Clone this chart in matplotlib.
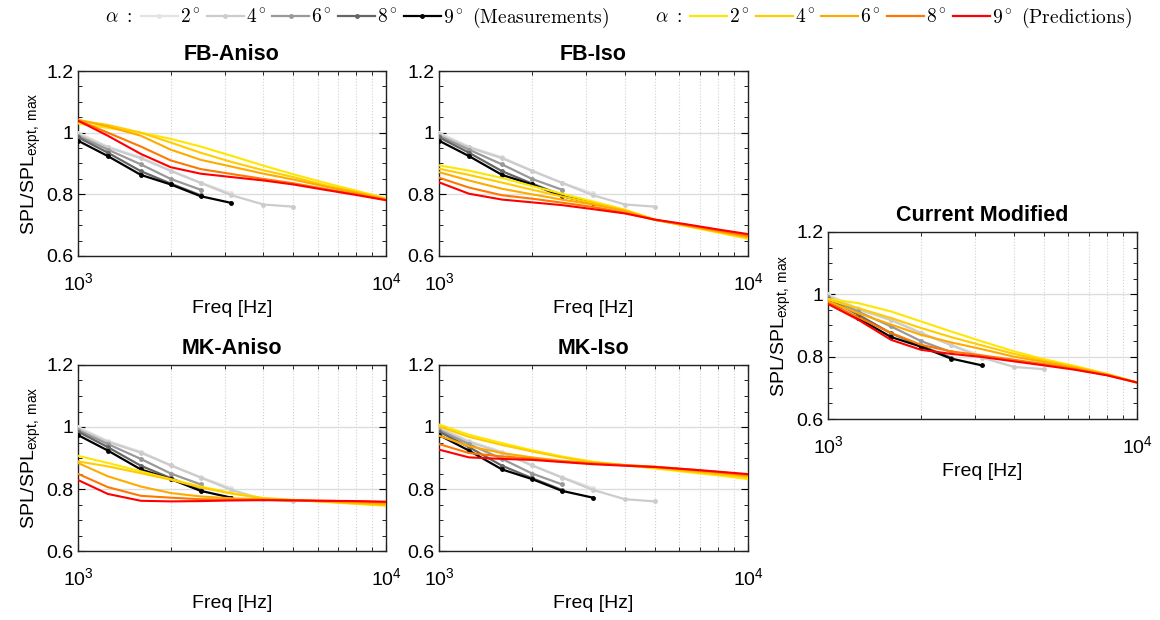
import numpy as np
import matplotlib
matplotlib.use("Agg")
import matplotlib.pyplot as plt
from matplotlib.ticker import FixedLocator, MultipleLocator, FuncFormatter, NullFormatter
from matplotlib.lines import Line2D

plt.rcParams['font.family'] = ['Liberation Sans', 'DejaVu Sans']
plt.rcParams['mathtext.fontset'] = 'custom'
plt.rcParams['mathtext.rm'] = 'Liberation Sans'
plt.rcParams['mathtext.it'] = 'Liberation Sans:italic'
plt.rcParams['mathtext.bf'] = 'Liberation Sans:bold'

# ---------------- data ----------------
angles = [2, 4, 6, 8, 9]
freq_meas = [1000, 1250, 1600, 2000, 2500, 3150, 4000, 5000]
meas_2 = [1.000, 0.955, 0.920, 0.877, 0.838, 0.803]
meas_4 = [0.995, 0.952, 0.917, 0.876, 0.837, 0.797, 0.767, 0.760]
meas_6 = [0.990, 0.945, 0.897, 0.850, 0.815]
meas_8 = [0.985, 0.935, 0.875, 0.835, 0.797]
meas_9 = [0.974, 0.924, 0.863, 0.832, 0.794, 0.772]
measurements = [meas_2, meas_4, meas_6, meas_8, meas_9]

freq_pred = [1000, 1250, 1600, 2000, 2500, 3150, 4000, 5000, 6300, 8000, 10000]

fb_aniso_2 = [1.030, 1.015, 1.000, 0.980, 0.955, 0.925, 0.893, 0.865, 0.838, 0.812, 0.787]
fb_aniso_4 = [1.040, 1.025, 1.000, 0.968, 0.935, 0.905, 0.878, 0.856, 0.830, 0.808, 0.785]
fb_aniso_6 = [1.042, 1.020, 0.990, 0.945, 0.912, 0.890, 0.867, 0.848, 0.826, 0.805, 0.784]
fb_aniso_8 = [1.040, 1.000, 0.955, 0.910, 0.882, 0.866, 0.850, 0.836, 0.818, 0.800, 0.782]
fb_aniso_9 = [1.039, 0.990, 0.931, 0.888, 0.867, 0.856, 0.845, 0.832, 0.815, 0.798, 0.781]

fb_iso_2 = [0.894, 0.877, 0.853, 0.827, 0.802, 0.777, 0.750, 0.718, 0.697, 0.676, 0.656]
fb_iso_4 = [0.883, 0.863, 0.838, 0.815, 0.793, 0.772, 0.748, 0.718, 0.698, 0.678, 0.659]
fb_iso_6 = [0.872, 0.845, 0.818, 0.800, 0.783, 0.767, 0.746, 0.717, 0.699, 0.680, 0.662]
fb_iso_8 = [0.854, 0.822, 0.797, 0.786, 0.773, 0.759, 0.740, 0.717, 0.701, 0.683, 0.666]
fb_iso_9 = [0.839, 0.802, 0.783, 0.774, 0.765, 0.752, 0.738, 0.718, 0.703, 0.686, 0.671]

mk_aniso_2 = [0.907, 0.884, 0.857, 0.832, 0.808, 0.787, 0.771, 0.765, 0.759, 0.752, 0.746]
mk_aniso_4 = [0.889, 0.873, 0.851, 0.830, 0.805, 0.785, 0.770, 0.764, 0.759, 0.753, 0.748]
mk_aniso_6 = [0.884, 0.841, 0.808, 0.787, 0.776, 0.770, 0.767, 0.764, 0.760, 0.756, 0.752]
mk_aniso_8 = [0.849, 0.806, 0.778, 0.772, 0.767, 0.765, 0.765, 0.764, 0.762, 0.760, 0.757]
mk_aniso_9 = [0.829, 0.784, 0.762, 0.760, 0.761, 0.763, 0.764, 0.763, 0.762, 0.761, 0.759]

mk_iso_2 = [1.008, 0.975, 0.948, 0.925, 0.905, 0.888, 0.877, 0.866, 0.855, 0.844, 0.832]
mk_iso_4 = [1.002, 0.968, 0.942, 0.921, 0.902, 0.886, 0.877, 0.868, 0.858, 0.848, 0.838]
mk_iso_6 = [0.972, 0.938, 0.916, 0.902, 0.891, 0.884, 0.877, 0.871, 0.861, 0.852, 0.842]
mk_iso_8 = [0.945, 0.916, 0.905, 0.898, 0.889, 0.882, 0.877, 0.872, 0.864, 0.855, 0.845]
mk_iso_9 = [0.927, 0.902, 0.897, 0.894, 0.887, 0.880, 0.875, 0.871, 0.864, 0.856, 0.848]

cm_2 = [0.985, 0.972, 0.945, 0.913, 0.881, 0.849, 0.817, 0.792, 0.770, 0.745, 0.717]
cm_4 = [0.983, 0.956, 0.924, 0.892, 0.863, 0.836, 0.809, 0.787, 0.767, 0.744, 0.717]
cm_6 = [0.977, 0.940, 0.903, 0.870, 0.846, 0.824, 0.800, 0.783, 0.764, 0.743, 0.717]
cm_8 = [0.972, 0.927, 0.876, 0.838, 0.817, 0.804, 0.790, 0.776, 0.760, 0.741, 0.717]
cm_9 = [0.969, 0.919, 0.854, 0.822, 0.809, 0.799, 0.785, 0.772, 0.758, 0.740, 0.717]

titles = ['FB-Aniso', 'FB-Iso', 'MK-Aniso', 'MK-Iso', 'Current Modified']
predictions = [
    [fb_aniso_2, fb_aniso_4, fb_aniso_6, fb_aniso_8, fb_aniso_9],
    [fb_iso_2, fb_iso_4, fb_iso_6, fb_iso_8, fb_iso_9],
    [mk_aniso_2, mk_aniso_4, mk_aniso_6, mk_aniso_8, mk_aniso_9],
    [mk_iso_2, mk_iso_4, mk_iso_6, mk_iso_8, mk_iso_9],
    [cm_2, cm_4, cm_6, cm_8, cm_9],
]

meas_colors = ['#e3e3e3', '#cccccc', '#999999', '#666666', '#000000']
pred_colors = ['#ffe600', '#ffcc00', '#ffaa00', '#ff7700', '#ff0000']

# ---------------- figure ----------------
W, H = 1160, 620
fig = plt.figure(figsize=(W / 100, H / 100), dpi=100)

def rect(l, t, r, b):
    return [l / W, 1 - b / H, (r - l) / W, (b - t) / H]

rects = [rect(78, 71, 386, 256), rect(439, 71, 748, 256),
         rect(78, 365, 386, 551), rect(439, 365, 748, 551),
         rect(828, 232, 1137, 419)]
ylabel_on = [True, False, True, False, True]

for i in range(5):
    ax = fig.add_axes(rects[i])
    ax.set_xscale('log')
    ax.set_xlim(1000, 10000)
    ax.set_ylim(0.6, 1.2)
    for k in range(5):
        xs = freq_meas[:len(measurements[k])]
        ax.plot(xs, measurements[k], color=meas_colors[k], lw=1.6,
                marker='.', ms=5, zorder=3)
    for k in range(5):
        ax.plot(freq_pred, predictions[i][k], color=pred_colors[k], lw=1.5, zorder=4)
    ax.yaxis.set_major_locator(MultipleLocator(0.2))
    ax.yaxis.set_minor_locator(MultipleLocator(0.05))
    ax.yaxis.set_major_formatter(FuncFormatter(lambda v, p: '%g' % round(v, 2)))
    ax.xaxis.set_major_locator(FixedLocator([1000, 10000]))
    ax.xaxis.set_major_formatter(FuncFormatter(lambda v, p: r'$10^{%d}$' % round(np.log10(v))))
    ax.xaxis.set_minor_locator(FixedLocator([2000, 3000, 4000, 5000, 6000, 7000, 8000, 9000]))
    ax.xaxis.set_minor_formatter(NullFormatter())
    ax.grid(True, which='major', axis='y', color='#dddddd', lw=1.0, zorder=0)
    ax.grid(True, which='minor', axis='x', color='#d0d0d0', lw=0.8, ls=':', zorder=0)
    ax.tick_params(which='both', direction='in', top=True, right=True, labelsize=14)
    ax.tick_params(which='major', length=5)
    ax.tick_params(which='minor', length=3)
    ax.tick_params(axis='x', which='major', pad=12)
    for s in ax.spines.values():
        s.set_linewidth(1.0)
        s.set_color('#222222')
    ax.set_title(titles[i], fontsize=15.5, fontweight='bold', pad=8)
    ax.set_xlabel('Freq [Hz]', fontsize=14, labelpad=4)
    if ylabel_on[i]:
        ax.set_ylabel(r'SPL/SPL$_{\mathrm{expt,\ max}}$', fontsize=14, labelpad=2)
    ax.set_axisbelow(True)

# ---------------- legends ----------------
def make_handles(colors, markers):
    hs = []
    for c in colors:
        if markers:
            hs.append(Line2D([], [], color=c, lw=1.6, marker='.', ms=5))
        else:
            hs.append(Line2D([], [], color=c, lw=1.6))
    return hs

meas_labels = [r'$%d^\circ$' % a for a in angles[:-1]] + [r'$9^\circ\ \mathrm{(Measurements)}$']
pred_labels = [r'$%d^\circ$' % a for a in angles[:-1]] + [r'$9^\circ\ \mathrm{(Predictions)}$']

fig.text(105 / W, 1 - 18 / H, r'$\alpha\ :$', fontsize=14, va='center', ha='left', math_fontfamily='cm')
fig.text(655 / W, 1 - 18 / H, r'$\alpha\ :$', fontsize=14, va='center', ha='left', math_fontfamily='cm')

common = dict(loc='center left', ncol=5, frameon=False, fontsize=14,
              handlelength=1.9, handletextpad=0.1, columnspacing=0.3,
              borderaxespad=0, borderpad=0)
leg1 = fig.legend(make_handles(meas_colors, True), meas_labels,
                  bbox_to_anchor=(141 / W, 1 - 18 / H), **common)
leg2 = fig.legend(make_handles(pred_colors, False), pred_labels,
                  bbox_to_anchor=(690 / W, 1 - 18 / H), **common)
for lg in (leg1, leg2):
    for t in lg.get_texts():
        t.set_math_fontfamily('cm')

fig.savefig('out.png', dpi=100)
